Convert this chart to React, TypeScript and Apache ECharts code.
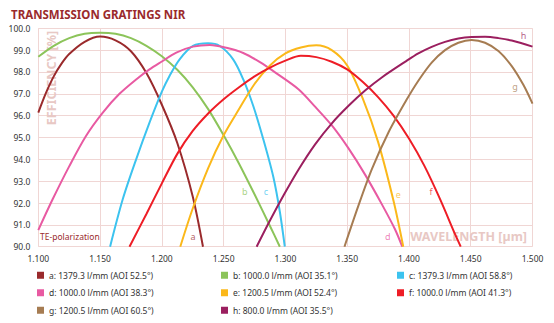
import React, { useEffect, useRef } from "react";
import * as echarts from "echarts";

const seriesNames = [
  "a: 1379.3 l/mm (AOI 52.5°)",
  "b: 1000.0 l/mm (AOI 35.1°)",
  "c: 1379.3 l/mm (AOI 58.8°)",
  "d: 1000.0 l/mm (AOI 38.3°)",
  "e: 1200.5 l/mm (AOI 52.4°)",
  "f: 1000.0 l/mm (AOI 41.3°)",
  "g: 1200.5 l/mm (AOI 60.5°)",
  "h: 800.0 l/mm (AOI 35.5°)",
];
const seriesColors = ["#9a2a2c", "#8cc45a", "#3cc3ef", "#e85aa2", "#fbb81a", "#ee1d26", "#a67c52", "#9b1f5f"];

const curveA = [[1.100, 96.14], [1.1063, 97.05], [1.1125, 97.8], [1.1188, 98.38], [1.125, 98.82], [1.1375, 99.38], [1.150, 99.62], [1.1625, 99.45], [1.175, 98.95], [1.1875, 97.95], [1.200, 96.5], [1.2125, 94.75], [1.225, 92.3], [1.2333, 90.0]];
const curveB = [[1.100, 98.70], [1.1125, 99.2], [1.125, 99.55], [1.1375, 99.75], [1.150, 99.8], [1.1625, 99.75], [1.175, 99.55], [1.1875, 99.2], [1.200, 98.72], [1.2125, 98.1], [1.225, 97.3], [1.2375, 96.3], [1.250, 95.1], [1.2625, 93.8], [1.275, 92.4], [1.2875, 90.95], [1.2955, 90.0]];
const curveC = [[1.1581, 90.0], [1.1684, 92.18], [1.1792, 94.0], [1.190, 95.68], [1.200, 97.1], [1.2062, 97.82], [1.2144, 98.58], [1.2252, 99.19], [1.2374, 99.31], [1.2469, 99.19], [1.2577, 98.58], [1.2659, 97.66], [1.274, 96.44], [1.2821, 94.92], [1.2902, 93.2], [1.2955, 91.6], [1.2995, 90.0]];
const curveD = [[1.100, 90.76], [1.1116, 92.17], [1.1251, 93.69], [1.1386, 95.07], [1.1522, 96.14], [1.1657, 97.0], [1.1792, 97.66], [1.190, 98.12], [1.200, 98.48], [1.2117, 98.89], [1.2252, 99.16], [1.2388, 99.24], [1.2523, 99.11], [1.2659, 98.87], [1.2794, 98.45], [1.2925, 97.95], [1.3108, 97.2], [1.3242, 96.4], [1.3376, 95.55], [1.3511, 94.5], [1.3645, 93.3], [1.378, 91.95], [1.3887, 90.8], [1.3946, 90.0]];
const curveE = [[1.2149, 90.0], [1.225, 91.75], [1.2375, 93.6], [1.250, 95.1], [1.2625, 96.3], [1.275, 97.45], [1.2875, 98.3], [1.300, 98.85], [1.3125, 99.12], [1.325, 99.22], [1.3375, 99.0], [1.350, 98.3], [1.3625, 96.8], [1.375, 94.8], [1.3875, 92.1], [1.3954, 90.0]];
const curveF = [[1.1738, 90.0], [1.1875, 91.5], [1.200, 92.9], [1.2125, 94.25], [1.225, 95.3], [1.2375, 96.1], [1.250, 96.75], [1.2625, 97.3], [1.275, 97.8], [1.2875, 98.2], [1.300, 98.52], [1.3125, 98.74], [1.325, 98.68], [1.3375, 98.47], [1.350, 98.12], [1.3625, 97.55], [1.375, 96.85], [1.3875, 96.0], [1.400, 94.95], [1.4125, 93.7], [1.425, 92.2], [1.4375, 90.55], [1.4419, 90.0]];
const curveG = [[1.3478, 90.0], [1.3591, 91.88], [1.3699, 93.54], [1.3833, 95.22], [1.3978, 96.7], [1.4076, 97.6], [1.4184, 98.43], [1.4292, 99.0], [1.440, 99.34], [1.4508, 99.47], [1.4616, 99.34], [1.4724, 98.96], [1.4832, 98.27], [1.4927, 97.4], [1.500, 96.55]];
const curveH = [[1.2767, 90.0], [1.2875, 91.2], [1.299, 92.4], [1.3108, 93.55], [1.3242, 94.7], [1.3376, 95.65], [1.3511, 96.45], [1.3645, 97.15], [1.378, 97.75], [1.3978, 98.5], [1.4076, 98.85], [1.4184, 99.15], [1.4292, 99.38], [1.440, 99.53], [1.4508, 99.6], [1.4616, 99.61], [1.4724, 99.55], [1.4832, 99.44], [1.500, 99.16]];
const curves = [curveA, curveB, curveC, curveD, curveE, curveF, curveG, curveH];

const letterLabels = ["a", "b", "c", "d", "e", "f", "g", "h"];
const letterPositions = [[1.2252, 90.46], [1.2672, 92.52], [1.2843, 92.52], [1.3828, 90.46], [1.3914, 92.4], [1.4178, 92.52], [1.4859, 97.33], [1.4927, 99.65]];

const xMin = 1.1;
const xMax = 1.5;
const xStep = 0.05;
const yMin = 90;
const yMax = 100;
const yStep = 1;

export default function App() {
  const ref = useRef<HTMLDivElement>(null);
  useEffect(() => {
    if (!ref.current) return;
    const chart = echarts.init(ref.current, null, { renderer: "svg" });
    const font = "'Noto Sans', sans-serif";
    const lineSeries = curves.map((c, i) => ({
      type: "line",
      name: seriesNames[i],
      data: c,
      smooth: 0.3,
      showSymbol: false,
      symbol: "none",
      lineStyle: { color: seriesColors[i], width: 2 },
      itemStyle: { color: seriesColors[i] },
      z: 3,
    }));
    const labelSeries = {
      type: "scatter",
      name: "labels",
      symbolSize: 0,
      data: letterPositions.map((p, i) => ({
        value: p,
        name: letterLabels[i],
        label: { color: seriesColors[i], opacity: 0.75 },
      })),
      label: {
        show: true,
        position: "inside",
        formatter: (p: any) => p.name,
        fontSize: 9,
        fontFamily: font,
      },
      z: 4,
    };
    const legendBase = {
      orient: "vertical",
      top: 270,
      height: 52,
      itemWidth: 7,
      itemHeight: 7,
      itemGap: 7,
      icon: "rect",
      padding: 0,
      textStyle: { fontSize: 8.5, color: "#333", fontFamily: font, lineHeight: 10.5 },
    };
    chart.setOption({
      animation: false,
      textStyle: { fontFamily: font },
      title: {
        text: "TRANSMISSION GRATINGS NIR",
        left: 6,
        top: 3,
        textStyle: { fontSize: 11.5, fontWeight: "bold", color: "#9a2a2c", fontFamily: font },
      },
      grid: { left: 38.3, right: 21.5, top: 28.3, bottom: 76.3 },
      xAxis: {
        type: "value",
        min: xMin,
        max: xMax,
        interval: xStep,
        axisLine: { show: false },
        axisTick: { show: false },
        splitLine: { show: true, lineStyle: { color: "#f0d6d4", width: 1 } },
        axisLabel: { formatter: (v: number) => v.toFixed(3), fontSize: 8.5, color: "#333", margin: 7 },
      },
      yAxis: {
        type: "value",
        min: yMin,
        max: yMax,
        interval: yStep,
        axisLine: { show: false },
        axisTick: { show: false },
        splitLine: { show: true, lineStyle: { color: "#f0d6d4", width: 1 } },
        axisLabel: { formatter: (v: number) => v.toFixed(1), fontSize: 8.5, color: "#333", margin: 8 },
      },
      legend: [
        { ...legendBase, left: 37, data: [seriesNames[0], seriesNames[3], seriesNames[6]] },
        { ...legendBase, left: 221, data: [seriesNames[1], seriesNames[4], seriesNames[7]] },
        { ...legendBase, left: 397, data: [seriesNames[2], seriesNames[5]] },
      ],
      graphic: [
        {
          type: "text",
          x: 51,
          y: 78,
          rotation: Math.PI / 2,
          style: {
            text: "EFFICIENCY [%]",
            fontSize: 12.5,
            fontWeight: "bold",
            fontFamily: font,
            fill: "#e8c8c4",
            textAlign: "center",
            textVerticalAlign: "middle",
          },
          z: 1,
        },
        {
          type: "text",
          x: 527,
          y: 236,
          style: {
            text: "WAVELENGTH [µm]",
            fontSize: 12.5,
            fontWeight: "bold",
            fontFamily: font,
            fill: "#e8c8c4",
            textAlign: "right",
            textVerticalAlign: "middle",
          },
          z: 1,
        },
        {
          type: "text",
          x: 40,
          y: 236.5,
          style: {
            text: "TE-polarization",
            fontSize: 8.5,
            fontFamily: font,
            fill: "#9a2a2c",
            textAlign: "left",
            textVerticalAlign: "middle",
          },
          z: 10,
        },
      ],
      series: [...lineSeries, labelSeries],
    });
    return () => chart.dispose();
  }, []);
  return <div ref={ref} style={{ width: 554, height: 323, position: "absolute", left: 0, top: 0 }} />;
}
